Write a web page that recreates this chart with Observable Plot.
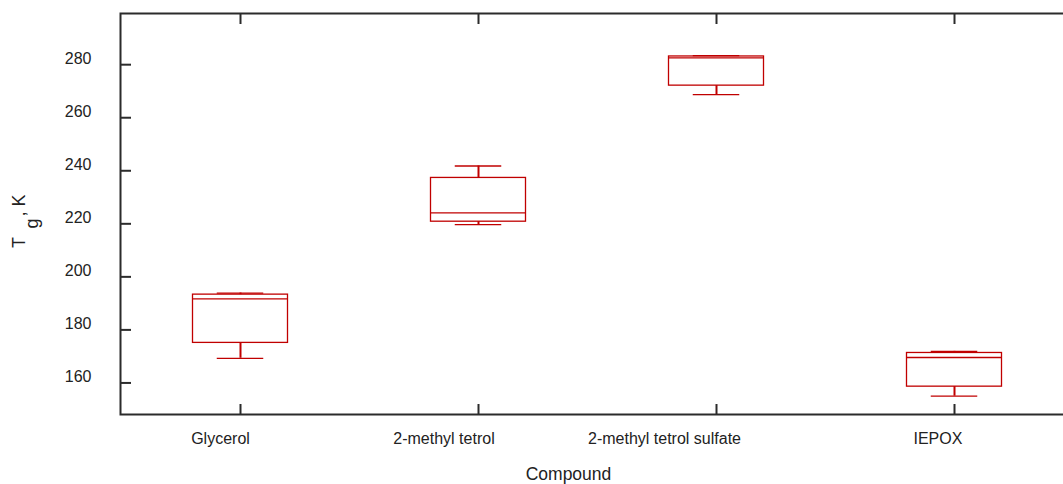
<!DOCTYPE html>
<html>
<head>
<meta charset="utf-8">
<script src="https://cdn.jsdelivr.net/npm/d3@7"></script>
<script src="https://cdn.jsdelivr.net/npm/@observablehq/plot@0.6"></script>
<style>
  html, body { margin: 0; padding: 0; background: #fff; overflow: hidden; }
  #chart svg { display: block; }
</style>
</head>
<body>
<div id="chart"></div>
<script>
// Glass transition temperature (K) summary per compound
const compounds = ["Glycerol", "2-methyl tetrol", "2-methyl tetrol sulfate", "IEPOX"];
const whiskerLow = [169.3, 219.7, 268.7, 155.0];
const quartile1 = [175.1, 220.8, 272.1, 158.6];
const medians = [191.7, 224.1, 282.6, 169.6];
const quartile3 = [193.3, 237.3, 283.1, 171.3];
const whiskerHigh = [193.9, 241.8, 283.4, 171.9];
const yTicks = [160, 180, 200, 220, 240, 260, 280];

const boxes = compounds.map((name, i) => ({
  name,
  min: whiskerLow[i],
  q1: quartile1[i],
  median: medians[i],
  q3: quartile3[i],
  max: whiskerHigh[i]
}));

const red = "#c00000";
const ink = "#2b2b2b";
const font = "Arial, 'Liberation Sans', sans-serif";

const chart = Plot.plot({
  width: 1063,
  height: 484,
  marginLeft: 120,
  marginRight: -11,
  marginTop: 13,
  marginBottom: 70,
  style: { fontFamily: font, fontSize: "16px", color: "#222", background: "#fff" },
  x: { type: "band", domain: compounds, padding: 0, label: null },
  y: { domain: [148.1, 299.3], label: null },
  marks: [
    Plot.frame({ stroke: ink, strokeWidth: 2 }),
    // inward ticks on left, bottom and top edges
    Plot.axisY({ ticks: yTicks, tickSize: 11, dx: 11, text: null, stroke: ink, strokeWidth: 2, label: null }),
    Plot.axisY({ ticks: yTicks, tickSize: 0, tickPadding: 29, dy: -6, fontSize: 16, label: null }),
    Plot.axisX({ anchor: "bottom", tickSize: 10, dy: -10, text: null, stroke: ink, strokeWidth: 2, label: null }),
    Plot.axisX({ anchor: "top", tickSize: 10, dy: 10, text: null, stroke: ink, strokeWidth: 2, label: null }),
    Plot.axisX({ anchor: "bottom", tickSize: 0, tickPadding: 18, fontSize: 16, label: null }),
    // boxes
    Plot.rectY(boxes, { x: "name", y1: "q1", y2: "q3", fill: "none", stroke: red, strokeWidth: 1.3, insetLeft: 71.5, insetRight: 71.5 }),
    Plot.tickY(boxes, { x: "name", y: "median", stroke: red, strokeWidth: 1.3, insetLeft: 71.5, insetRight: 71.5 }),
    // whiskers
    Plot.ruleX(boxes, { x: "name", y1: "q3", y2: "max", stroke: red, strokeWidth: 2 }),
    Plot.ruleX(boxes, { x: "name", y1: "min", y2: "q1", stroke: red, strokeWidth: 2 }),
    Plot.tickY(boxes, { x: "name", y: "max", stroke: red, strokeWidth: 1.3, insetLeft: 95.75, insetRight: 95.75 }),
    Plot.tickY(boxes, { x: "name", y: "min", stroke: red, strokeWidth: 1.3, insetLeft: 95.75, insetRight: 95.75 }),
    // axis title
    Plot.text(["Compound"], { frameAnchor: "bottom", text: d => d, dx: -29, dy: 53, lineAnchor: "top", fontSize: 17.5, fill: "#222" })
  ]
});

document.getElementById("chart").appendChild(chart);

// category labels sit slightly to the left of their ticks
chart.querySelectorAll('g[aria-label="x-axis tick label"] text').forEach(t => {
  const len = t.getComputedTextLength();
  t.setAttribute("dx", (-0.34 * len).toFixed(1));
});

// rotated y-axis title with subscript
const svg = d3.select(chart);
const ylab = svg.append("text")
  .attr("transform", "translate(25,248) rotate(-90)")
  .attr("text-anchor", "start")
  .attr("font-family", font)
  .attr("font-size", 18)
  .attr("fill", "#222");
ylab.append("tspan").text("T");
ylab.append("tspan").attr("dx", 8.5).attr("dy", 13).text("g");
ylab.append("tspan").attr("dx", 2).attr("dy", -13).text(", K");
</script>
</body>
</html>
